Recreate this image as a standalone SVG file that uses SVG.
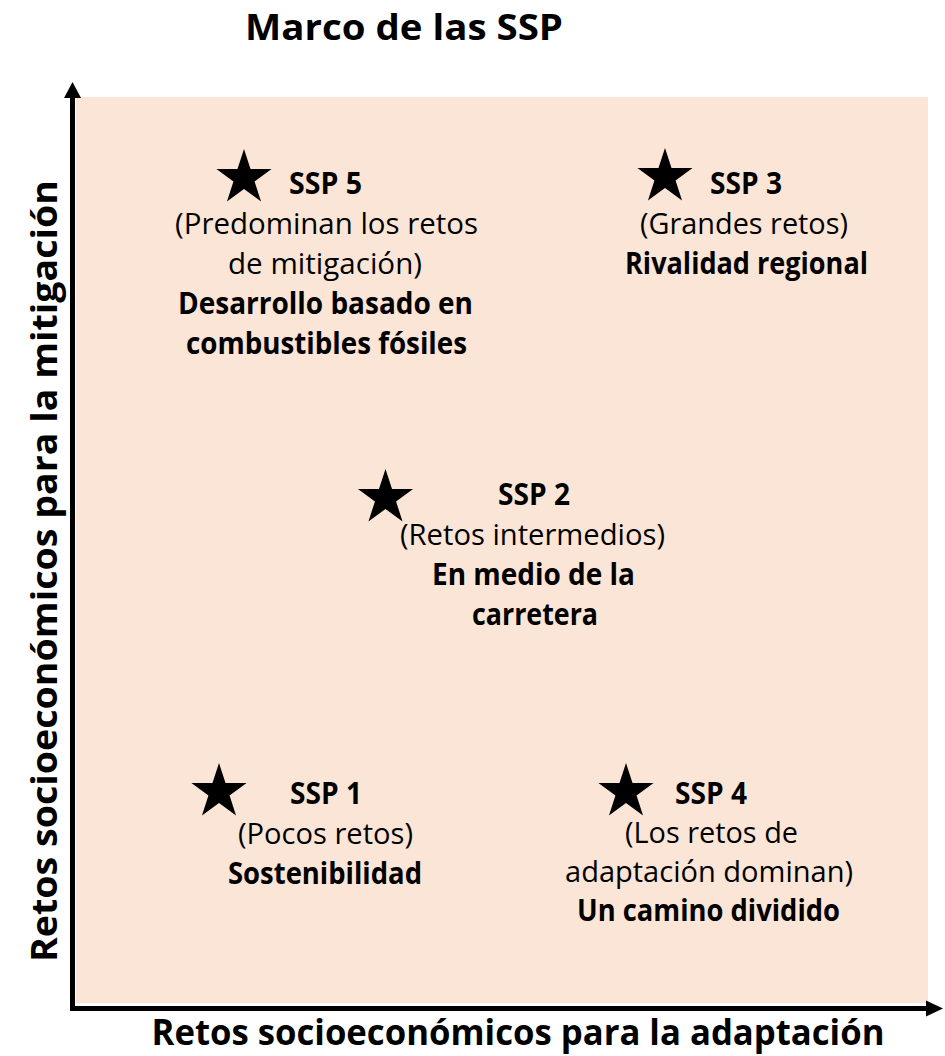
<svg xmlns="http://www.w3.org/2000/svg" width="945" height="1056" viewBox="0 0 945 1056">
  <defs>
    <style>
      .t { font-family: "Open Sans", "Liberation Sans", sans-serif; fill: #000; }
      .r { font-size: 30px; font-weight: 400; }
      .b { font-size: 30px; font-weight: 700; }
      .ax { font-size: 36px; font-weight: 700; }
      .axis { stroke: #000; stroke-width: 5; fill: none; }
    </style>
    <path id="star" d="M0,-29 L6.52,-8.98 L27.58,-8.96 L10.56,3.43 L17.05,23.46 L0,11.1 L-17.05,23.46 L-10.56,3.43 L-27.58,-8.96 L-6.52,-8.98 Z" fill="#000"/>
  </defs>
  <rect width="945" height="1056" fill="#fff"/>
  <rect x="76" y="97" width="852" height="906" fill="#FBE5D6"/>

  <text class="t ax" x="404" y="40" text-anchor="middle" textLength="318" lengthAdjust="spacingAndGlyphs">Marco de las SSP</text>

  <g id="connectors">
    <line class="axis" x1="72.5" y1="1011" x2="72.5" y2="96"/>
    <polygon points="72.5,82 64,98 81,98" fill="#000"/>
    <line class="axis" x1="70" y1="1008.5" x2="928" y2="1008.5"/>
    <polygon points="943,1008.5 926,1000.5 926,1016.5" fill="#000"/>
  </g>

  <text class="t ax" x="518" y="1045" text-anchor="middle" textLength="733" lengthAdjust="spacingAndGlyphs">Retos socioeconómicos para la adaptación</text>
  <text class="t ax" transform="translate(57,571) rotate(-90)" x="0" y="0" text-anchor="middle" textLength="782" lengthAdjust="spacingAndGlyphs">Retos socioeconómicos para la mitigación</text>

  <g id="ssp5">
    <use href="#star" x="244" y="178"/>
    <text class="t b" x="289" y="194" textLength="73" lengthAdjust="spacingAndGlyphs">SSP 5</text>
    <text class="t r" x="326.5" y="234" text-anchor="middle" textLength="303" lengthAdjust="spacingAndGlyphs">(Predominan los retos</text>
    <text class="t r" x="325" y="274" text-anchor="middle" textLength="194" lengthAdjust="spacingAndGlyphs">de mitigación)</text>
    <text class="t b" x="325.5" y="314" text-anchor="middle" textLength="295" lengthAdjust="spacingAndGlyphs">Desarrollo basado en</text>
    <text class="t b" x="326.5" y="354" text-anchor="middle" textLength="281" lengthAdjust="spacingAndGlyphs">combustibles fósiles</text>
  </g>

  <g id="ssp3">
    <use href="#star" x="665" y="177"/>
    <text class="t b" x="710" y="194" textLength="72" lengthAdjust="spacingAndGlyphs">SSP 3</text>
    <text class="t r" x="744" y="234" text-anchor="middle" textLength="208" lengthAdjust="spacingAndGlyphs">(Grandes retos)</text>
    <text class="t b" x="746.5" y="274" text-anchor="middle" textLength="243" lengthAdjust="spacingAndGlyphs">Rivalidad regional</text>
  </g>

  <g id="ssp2">
    <use href="#star" x="385.5" y="498"/>
    <text class="t b" x="498" y="505" textLength="72" lengthAdjust="spacingAndGlyphs">SSP 2</text>
    <text class="t r" x="532.5" y="545" text-anchor="middle" textLength="265" lengthAdjust="spacingAndGlyphs">(Retos intermedios)</text>
    <text class="t b" x="533.5" y="585" text-anchor="middle" textLength="203" lengthAdjust="spacingAndGlyphs">En medio de la</text>
    <text class="t b" x="535" y="625" text-anchor="middle" textLength="126" lengthAdjust="spacingAndGlyphs">carretera</text>
  </g>

  <g id="ssp1">
    <use href="#star" x="219" y="792"/>
    <text class="t b" x="290" y="804" textLength="72" lengthAdjust="spacingAndGlyphs">SSP 1</text>
    <text class="t r" x="325.5" y="844" text-anchor="middle" textLength="175" lengthAdjust="spacingAndGlyphs">(Pocos retos)</text>
    <text class="t b" x="325" y="884" text-anchor="middle" textLength="194" lengthAdjust="spacingAndGlyphs">Sostenibilidad</text>
  </g>

  <g id="ssp4">
    <use href="#star" x="626" y="792"/>
    <text class="t b" x="675" y="804" textLength="72" lengthAdjust="spacingAndGlyphs">SSP 4</text>
    <text class="t r" x="711.5" y="843" text-anchor="middle" textLength="173" lengthAdjust="spacingAndGlyphs">(Los retos de</text>
    <text class="t r" x="709" y="882" text-anchor="middle" textLength="288" lengthAdjust="spacingAndGlyphs">adaptación dominan)</text>
    <text class="t b" x="708.5" y="921" text-anchor="middle" textLength="263" lengthAdjust="spacingAndGlyphs">Un camino dividido</text>
  </g>
</svg>
